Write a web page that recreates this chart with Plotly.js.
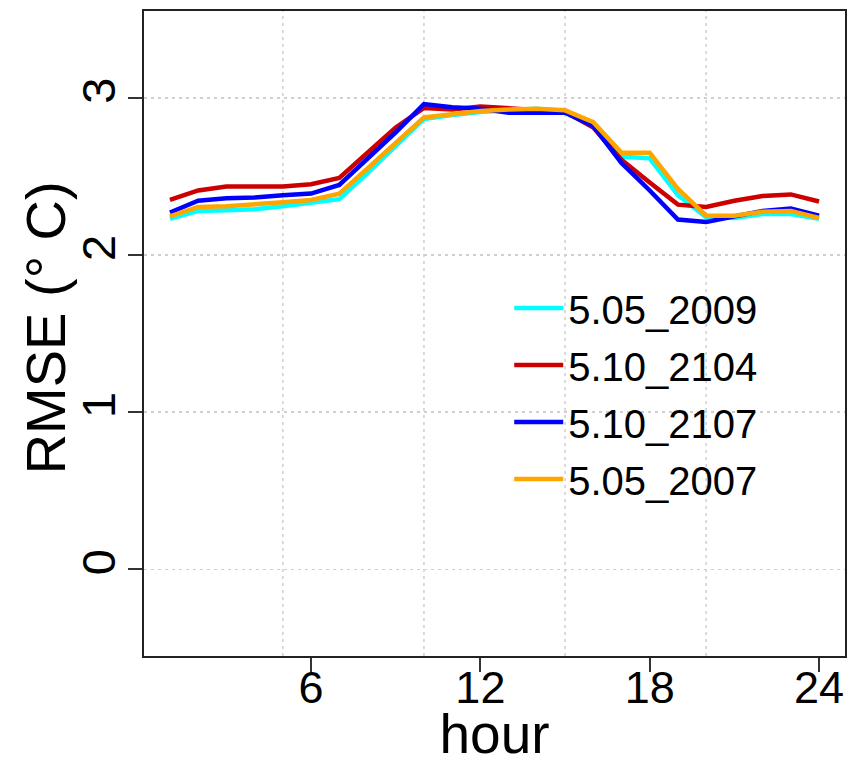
<!DOCTYPE html>
<html>
<head>
<meta charset="utf-8">
<script src="https://cdn.plot.ly/plotly-3.0.1.min.js"></script>
<style>html,body{margin:0;padding:0;background:#fff;}#chart{width:847px;height:765px;}</style>
</head>
<body>
<div id="chart"></div>
<script>
const hours = [1,2,3,4,5,6,7,8,9,10,11,12,13,14,15,16,17,18,19,20,21,22,23,24];
const seriesNames = ["5.05_2009", "5.10_2104", "5.10_2107", "5.05_2007"];
const rmse_505_2009 = [2.23,2.28,2.285,2.29,2.31,2.33,2.355,2.52,2.69,2.865,2.89,2.91,2.92,2.93,2.915,2.84,2.625,2.615,2.38,2.24,2.235,2.26,2.26,2.23];
const rmse_510_2104 = [2.35,2.41,2.435,2.435,2.435,2.45,2.49,2.65,2.81,2.935,2.925,2.945,2.935,2.925,2.91,2.81,2.605,2.46,2.32,2.305,2.345,2.375,2.385,2.34];
const rmse_510_2107 = [2.27,2.345,2.36,2.365,2.38,2.39,2.445,2.61,2.78,2.96,2.94,2.93,2.905,2.905,2.905,2.82,2.585,2.41,2.225,2.21,2.245,2.28,2.295,2.25];
const rmse_505_2007 = [2.245,2.305,2.31,2.32,2.335,2.35,2.39,2.55,2.71,2.875,2.895,2.915,2.925,2.93,2.92,2.845,2.65,2.65,2.42,2.25,2.25,2.275,2.28,2.235];
const xTickVals = [6,12,18,24];
const xGridVals = [5,10,15,20];
const yTickVals = [0,1,2,3];
const xTitle = "hour";
const yTitle = "RMSE (° C)";

const colors = ["#00FFFF", "#CD0000", "#0000FF", "#FFA500"];
const values = [rmse_505_2009, rmse_510_2104, rmse_510_2107, rmse_505_2007];
const FONT = "Liberation Sans, Arial, Helvetica, sans-serif";
const GRID = "#cfcfcf";

const traces = values.map((v, i) => ({
  x: hours, y: v, type: "scatter", mode: "lines", name: seriesNames[i],
  legendgroup: "g" + i,
  line: {color: colors[i], width: 4.5}
}));

const gridShapes = xGridVals.map(g => ({
  type: "line", xref: "x", yref: "paper", x0: g, x1: g, y0: 0, y1: 1,
  layer: "below", line: {color: GRID, width: 1.5, dash: "3px,4px"}
}));

const layout = {
  width: 847, height: 765,
  margin: {l: 144, r: 2, t: 11, b: 109},
  paper_bgcolor: "#fff", plot_bgcolor: "#fff",
  font: {family: FONT, color: "#000"},
  showlegend: true,
  shapes: gridShapes,
  annotations: [{
    text: yTitle, textangle: -90, xref: "paper", yref: "paper",
    x: -0.1412, y: 0.508, xanchor: "center", yanchor: "middle", showarrow: false,
    font: {size: 56, family: FONT, color: "#000"}
  }],
  legend: {x: 0.521, y: 0.59, xanchor: "left", yanchor: "top",
    bgcolor: "rgba(0,0,0,0)", font: {size: 40, family: FONT, color: "#000"},
    itemwidth: 49, tracegroupgap: 2},
  xaxis: {
    range: [0.08, 24.92], tickmode: "array", tickvals: xTickVals,
    ticktext: xTickVals.map(String), showgrid: false, zeroline: false,
    ticks: "outside", ticklen: 14, tickwidth: 2, tickcolor: "#333",
    showline: true, mirror: true, linecolor: "#222", linewidth: 2,
    ticklabelstandoff: -23,
    tickfont: {size: 45, family: FONT, color: "#000"},
    title: {text: xTitle, font: {size: 55, family: FONT, color: "#000"}, standoff: 30}
  },
  yaxis: {
    range: [-0.552, 3.552], tickmode: "array", tickvals: yTickVals,
    ticktext: yTickVals.map(String), tickangle: -90,
    showgrid: true, gridcolor: GRID, gridwidth: 1.5, griddash: "3px,4px", zeroline: false,
    ticks: "outside", ticklen: 14, tickwidth: 2, tickcolor: "#333",
    showline: true, mirror: true, linecolor: "#222", linewidth: 2,
    ticklabelstandoff: -6,
    tickfont: {size: 47, family: FONT, color: "#000"}
  }
};

Plotly.newPlot("chart", traces, layout, {displayModeBar: false, staticPlot: true});
</script>
</body>
</html>
